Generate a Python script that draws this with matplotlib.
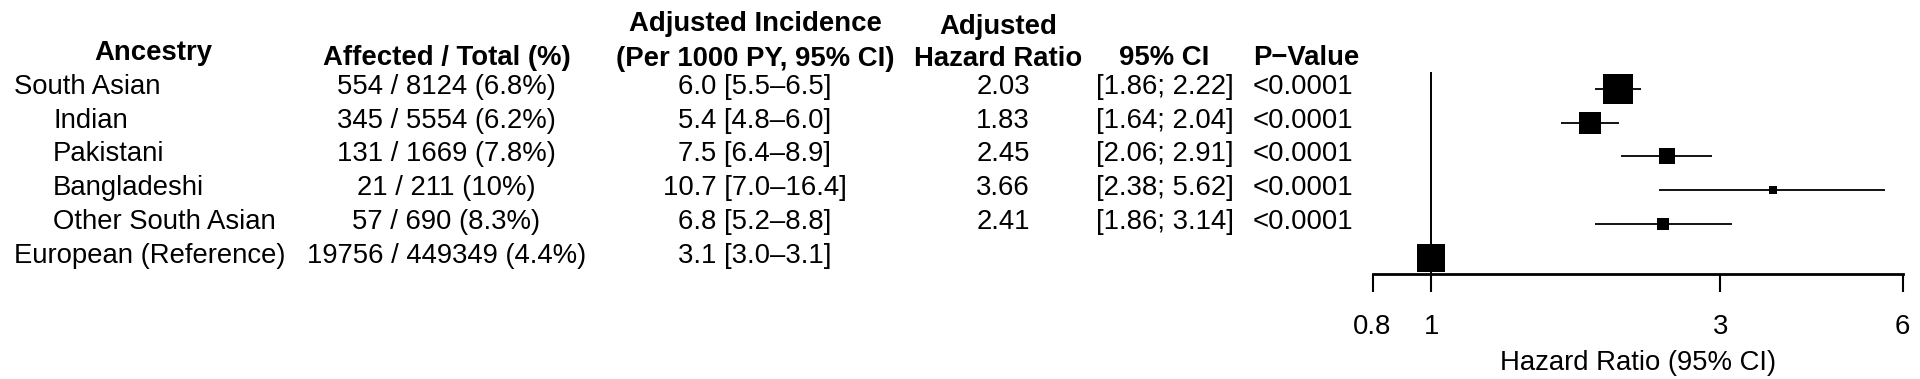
import matplotlib
matplotlib.use("Agg")
import matplotlib.pyplot as plt
from matplotlib import transforms
from matplotlib.ticker import NullLocator, FixedLocator, FixedFormatter

# ---------------- data ----------------
ancestry = ["South Asian", "Indian", "Pakistani", "Bangladeshi",
            "Other South Asian", "European (Reference)"]
is_subgroup = [False, True, True, True, True, False]
affected = [554, 345, 131, 21, 57, 19756]
total = [8124, 5554, 1669, 211, 690, 449349]
pct = ["6.8%", "6.2%", "7.8%", "10%", "8.3%", "4.4%"]
incidence = ["6.0", "5.4", "7.5", "10.7", "6.8", "3.1"]
inc_lo = ["5.5", "4.8", "6.4", "7.0", "5.2", "3.0"]
inc_hi = ["6.5", "6.0", "8.9", "16.4", "8.8", "3.1"]
hr = [2.03, 1.83, 2.45, 3.66, 2.41, 1.0]
hr_lo = [1.86, 1.64, 2.06, 2.38, 1.86, None]
hr_hi = [2.22, 2.04, 2.91, 5.62, 3.14, None]
pvals = ["<0.0001", "<0.0001", "<0.0001", "<0.0001", "<0.0001", ""]
x_ticks = [0.8, 1, 3, 6]
x_tick_labels = ["0.8", "1", "3", "6"]
x_label = "Hazard Ratio (95% CI)"

# ---------------- style ----------------
W, H = 1920, 379
box_px = [29.5, 23, 16, 8.7, 11.3, 28.5]   # box side in pixels
FS = 19.8
plt.rcParams['font.family'] = ['Liberation Sans', 'DejaVu Sans']

fig = plt.figure(figsize=(W / 100, H / 100), dpi=100)

def fx(px):
    return px / W

def fy(py):
    return 1 - py / H

# forest axes geometry (pixels)
ax_left, ax_right = 1372.5, 1902.7
ax_top, ax_bottom = 71.7, 274.3
row0, row_step = 89.0, 33.7

ax = fig.add_axes([fx(ax_left), fy(ax_bottom), fx(ax_right - ax_left),
                   (ax_bottom - ax_top) / H])
ax.set_xscale('log')
ax.set_xlim(0.8, 6)
ax.set_ylim((ax_bottom - row0) / row_step, (ax_top - row0) / row_step)
for s in ['top', 'right', 'left']:
    ax.spines[s].set_visible(False)
ax.spines['bottom'].set_linewidth(2.0)
ax.set_yticks([])
ax.xaxis.set_major_locator(FixedLocator(x_ticks))
ax.xaxis.set_major_formatter(FixedFormatter(x_tick_labels))
ax.xaxis.set_minor_locator(NullLocator())
ax.tick_params(axis='x', direction='out', length=13, width=1.5,
               labelsize=FS, pad=15.3)
ax.set_xlabel(x_label, fontsize=FS, labelpad=7.5)
ax.patch.set_visible(False)

ax.axvline(1, color='black', lw=1.4, zorder=1)
for i in range(len(ancestry)):
    if hr_lo[i] is not None:
        ax.hlines(i, hr_lo[i], hr_hi[i], color='black', lw=1.3, zorder=2)
    ax.plot([hr[i]], [i], marker='s', ms=box_px[i] * 0.72, color='black',
            mew=0, ls='none', zorder=3, clip_on=False)

# ---------------- table text ----------------
trans = transforms.blended_transform_factory(fig.transFigure, ax.transData)
down = transforms.ScaledTranslation(0, -5.0 / 100, fig.dpi_scale_trans)
tt = trans + down

for i in range(len(ancestry)):
    xl = 53 if is_subgroup[i] else 14
    fig.text(fx(xl), i, ancestry[i], transform=tt, ha='left', va='baseline', fontsize=FS)
    fig.text(fx(446.5), i, f"{affected[i]} / {total[i]} ({pct[i]})", transform=tt,
             ha='center', va='baseline', fontsize=FS)
    fig.text(fx(754.5), i, f"{incidence[i]} [{inc_lo[i]}\u2013{inc_hi[i]}]", transform=tt,
             ha='center', va='baseline', fontsize=FS)
    if hr_lo[i] is not None:
        fig.text(fx(1003), i, f"{hr[i]:.2f}", transform=tt, ha='center',
                 va='baseline', fontsize=FS)
        fig.text(fx(1164.5), i, f"[{hr_lo[i]:.2f}; {hr_hi[i]:.2f}]", transform=tt,
                 ha='center', va='baseline', fontsize=FS)
    fig.text(fx(1303), i, pvals[i], transform=tt, ha='center', va='baseline', fontsize=FS)

# headers
hdr = dict(fontsize=FS, fontweight='bold', va='baseline', ha='center')
fig.text(fx(153.5), fy(60), "Ancestry", **hdr)
fig.text(fx(446.5), fy(65), "Affected / Total (%)", **hdr)
fig.text(fx(755), fy(31), "Adjusted Incidence", **hdr)
fig.text(fx(755), fy(65.5), "(Per 1000 PY, 95% CI)", **hdr)
fig.text(fx(998), fy(34), "Adjusted", **hdr)
fig.text(fx(998), fy(66.5), "Hazard Ratio", **hdr)
fig.text(fx(1164.5), fy(65), "95% CI", **hdr)
fig.text(fx(1306), fy(65), "P\u2212Value", **hdr)

fig.savefig("out.png", dpi=100)
